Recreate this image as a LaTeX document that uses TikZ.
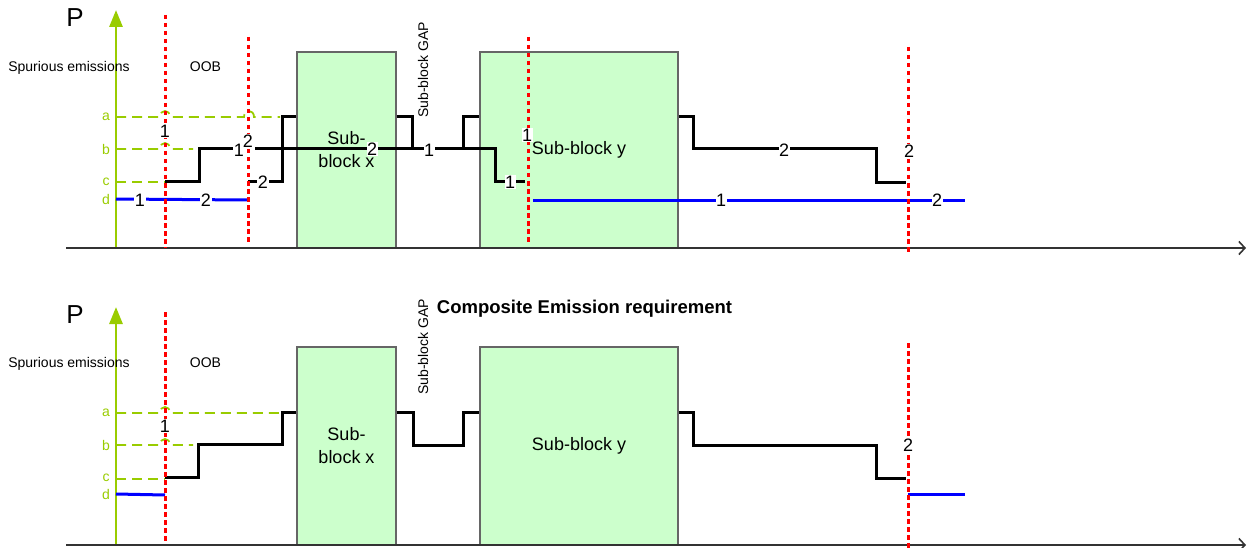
\documentclass[tikz,border=0pt]{standalone}
\usepackage{fontspec}
\setmainfont{Liberation Sans}
\usetikzlibrary{arrows.meta}
\definecolor{lev}{HTML}{99CC00}
\definecolor{boxfill}{HTML}{CCFFCC}
\definecolor{boxline}{HTML}{666666}
\definecolor{axisc}{HTML}{333333}
\begin{document}
\begin{tikzpicture}[x=1pt,y=-1pt,
  lvl/.style={lev,line width=1.8pt,dash pattern=on 10pt off 6pt},
  lvltxt/.style={text=lev,font=\fontsize{14}{16}\selectfont,inner sep=0pt},
  redline/.style={red,line width=3pt,dash pattern=on 4.5pt off 3.5pt},
  blk/.style={black,line width=3pt},
  blu/.style={blue,line width=3pt},
  sb/.style={fill=boxfill,draw=boxline,line width=1.2pt,align=center,
    font=\fontsize{18}{23}\selectfont,inner sep=0pt},
  num/.style={fill=white,inner xsep=0.5pt,inner ysep=1pt,font=\fontsize{18}{18}\selectfont},
  txt/.style={font=\fontsize{14}{16}\selectfont,inner sep=0pt,anchor=base},
  ptxt/.style={font=\fontsize{26}{26}\selectfont,inner sep=0pt,anchor=base},
  yax/.style={lev,line width=2.8pt,-{Triangle[length=17pt,width=13pt]}},
  xax/.style={axisc,line width=1.6pt,-{Straight Barb[length=6pt,width=13pt]}},
]
\useasboundingbox (0,0) rectangle (1249,548);

% ================= TOP PANEL =================
\node[sb,minimum width=99pt,minimum height=196pt] (bx1) at (346.5,150) {Sub-\\block x};
\node[sb,minimum width=198pt,minimum height=196pt] (by1) at (579,150) {Sub-block y};

\coordinate (ya0) at (116,248); \coordinate (ya1) at (116,10);
\draw[yax] (ya0) -- (ya1);
\coordinate (xa0) at (66,248); \coordinate (xa1) at (1246,248);
\draw[xax] (xa0) -- (xa1);

\node[ptxt] (P1) at (75,27) {P};
\node[txt] (sp1) at (69,72) {Spurious emissions};
\node[txt] (oob1) at (205.5,72) {OOB};
\node[txt,rotate=90,anchor=center] (gap1) at (423,70) {Sub-block GAP};

\node[lvltxt] (la1) at (106,117) {a};
\node[lvltxt] (lb1) at (106,149) {b};
\node[lvltxt] (lc1) at (106,182) {c};
\node[lvltxt] (ld1) at (106,199) {d};

\draw[lvl] (116,117) -- (160,117) .. controls (160,109) and (170,109) .. (170,117)
  -- (244,117) .. controls (244,109) and (254,109) .. (254,117) -- (280,117);
\draw[lvl] (116,149) -- (160,149) .. controls (160,141) and (170,141) .. (170,149) -- (193,149);
\draw[lvl] (116,182) -- (165,182);

% black limits
\draw[blk] (165,182) -- (199,182) -- (199,149) -- (236,149);
\draw[blk] (255,149) -- (495,149) -- (495,182) -- (525,182);
\draw[blk] (248,182) -- (282,182) -- (282,117) -- (bx1.north west |- 0,117);
\draw[blk] (bx1.north east |- 0,117) -- (412,117) -- (412,149);
\draw[blk] (463,149) -- (463,117) -- (by1.north west |- 0,117);
\draw[blk] (by1.north east |- 0,117) -- (693,117) -- (693,149) -- (876,149) -- (876,183) -- (906,183);

% blue
\draw[blu] (ld1.east -| ya0) -- (248,200);
\draw[blu] (533,200) -- (965,200);

% red
\draw[redline] (165,15) -- (165,248);
\draw[redline] (248,37) -- (248,243);
\draw[redline] (528,37) -- (528,243);
\draw[redline] (908,47) -- (908,253);

% number labels
\node[num] (t1) at (165,131) {1};
\node[num] (t2) at (239,150) {1};
\node[num] (t3) at (248,141) {2};
\node[num] (t4) at (263,182) {2};
\node[num] (t5) at (372,149) {2};
\node[num] (t6) at (429,150) {1};
\node[num] (t7) at (527,135) {1};
\node[num] (t8) at (510,182) {1};
\node[num] (t9) at (784,150) {2};
\node[num] (t10) at (909,151) {2};
\node[num] (t11) at (140,200) {1};
\node[num] (t12) at (206,200) {2};
\node[num] (t13) at (721,200) {1};
\node[num] (t14) at (937,200) {2};

% ================= BOTTOM PANEL =================
\node[sb,minimum width=99pt,minimum height=198pt] (bx2) at (346.5,446) {Sub-\\block x};
\node[sb,minimum width=198pt,minimum height=198pt] (by2) at (579,446) {Sub-block y};

\coordinate (yb0) at (116,545); \coordinate (yb1) at (116,307);
\draw[yax] (yb0) -- (yb1);
\coordinate (xb0) at (66,545); \coordinate (xb1) at (1246,545);
\draw[xax] (xb0) -- (xb1);

\node[ptxt] (P2) at (75,323) {P};
\node[txt] (sp2) at (69,367) {Spurious emissions};
\node[txt] (oob2) at (205.5,367) {OOB};
\node[txt,rotate=90,anchor=center] (gap2) at (423,347) {Sub-block GAP};
\node[font=\bfseries\fontsize{18.5}{20}\selectfont,inner sep=0pt,anchor=base] (comp) at (584.5,313) {Composite Emission requirement};

\node[lvltxt] (la2) at (106,413) {a};
\node[lvltxt] (lb2) at (106,445) {b};
\node[lvltxt] (lc2) at (106,478) {c};
\node[lvltxt] (ld2) at (106,494) {d};

\draw[lvl] (116,413) -- (160,413) .. controls (160,405) and (170,405) .. (170,413) -- (280,413);
\draw[lvl] (116,445) -- (160,445) .. controls (160,437) and (170,437) .. (170,445) -- (193,445);
\draw[lvl] (116,479) -- (165,479);

\draw[blk] (165,477) -- (198,477) -- (198,444) -- (282,444) -- (282,412) -- (bx2.north west |- 0,412);
\draw[blk] (bx2.north east |- 0,412) -- (413,412) -- (413,445) -- (463,445) -- (463,412) -- (by2.north west |- 0,412);
\draw[blk] (by2.north east |- 0,412) -- (693,412) -- (693,445) -- (876,445) -- (876,478) -- (906,478);

\draw[blu] (ld2.east -| yb0) -- (165,495);
\draw[blu] (908,494) -- (965,494);

\draw[redline] (165,312) -- (165,542);
\draw[redline] (908,343) -- (908,548);

\node[num] (u1) at (165,426) {1};
\node[num] (u2) at (908,445) {2};
\end{tikzpicture}
\end{document}
